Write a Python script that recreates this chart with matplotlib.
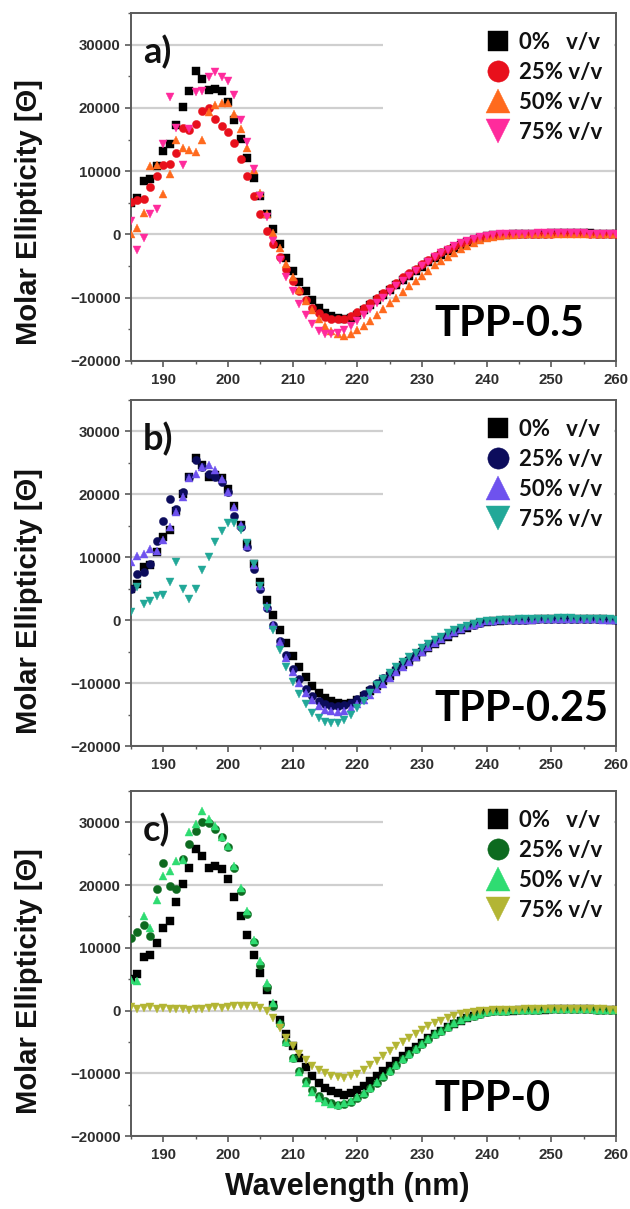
import matplotlib
matplotlib.use("Agg")
import matplotlib.pyplot as plt
from matplotlib.patches import Rectangle
from matplotlib.ticker import MultipleLocator
import numpy as np

# ---------------- data (molar ellipticity, in thousands) ----------------
wavelength = list(range(185, 261))  # nm, 1 nm grid

pct0 = [5.0, 5.8, 8.5, 8.8, 10.8,
        13.2, 14.3, 17.3, 20.1, 22.7, 25.8, 24.6, 22.8, 23.0, 22.6,
        20.9, 18.1, 15.1, 12.1, 8.9, 6.0, 3.2, 0.9, -1.5, -3.7,
        -5.7, -7.5, -9.0, -10.4, -11.6, -12.4, -12.9, -13.2, -13.4, -13.2,
        -12.7, -12.0, -11.2, -10.4, -9.6, -8.8, -8.0, -7.2, -6.5, -5.8,
        -5.1, -4.4, -3.8, -3.2, -2.6, -2.1, -1.6, -1.2, -0.8, -0.5,
        -0.3, -0.15, -0.08, -0.03, 0.0, 0.05, 0.08, 0.1, 0.12, 0.15,
        0.17, 0.2, 0.22, 0.25, 0.22, 0.2, 0.18, 0.15, 0.12, 0.1,
        0.08]

a_25 = [5.2, 5.5, 5.6, 7.5, 9.2,
        11.0, 11.2, 12.8, 16.8, 16.5, 17.5, 19.5, 20.0, 18.3, 17.2,
        16.2, 14.5, 12.0, 9.2, 6.0, 3.2, 0.6, -1.5, -3.5, -5.5,
        -7.3, -9.0, -10.4, -11.6, -12.4, -13.0, -13.3, -13.4, -13.3, -12.9,
        -12.3, -11.6, -10.8, -10.0, -9.2, -8.4, -7.6, -6.8, -6.1, -5.4,
        -4.7, -4.0, -3.4, -2.8, -2.3, -1.8, -1.4, -1.0, -0.7, -0.4,
        -0.2, -0.1, -0.05, 0.0, 0.03, 0.05, 0.08, 0.1, 0.12, 0.14,
        0.15, 0.17, 0.18, 0.2, 0.18, 0.16, 0.14, 0.12, 0.1, 0.08,
        0.06]

a_50 = [0.0, 1.0, 3.4, 10.8, 11.0,
        6.4, 9.5, 14.9, 13.6, 13.3, 13.0, 15.0, 19.3, 20.4, 20.7,
        20.8, 19.0, 16.7, 13.6, 10.2, 6.5, 3.2, 0.3, -2.2, -4.6,
        -6.8, -8.8, -10.5, -12.0, -13.3, -14.4, -15.2, -15.7, -16.0, -15.7,
        -15.1, -14.4, -13.6, -12.7, -11.8, -10.9, -10.0, -9.1, -8.2, -7.3,
        -6.5, -5.7, -4.9, -4.2, -3.5, -2.9, -2.3, -1.8, -1.3, -0.9,
        -0.6, -0.35, -0.2, -0.1, -0.05, 0.0, 0.03, 0.05, 0.08, 0.1,
        0.12, 0.14, 0.15, 0.15, 0.14, 0.12, 0.1, 0.08, 0.06, 0.05,
        0.04]

a_75 = [2.2, -2.4, -0.5, 3.3, 4.0,
        14.3, 21.7, 16.9, 10.9, 16.7, 22.5, 22.6, 24.9, 25.7, 24.9,
        24.2, 22.0, 18.1, 14.6, 10.4, 6.0, 2.7, -1.0, -4.0, -6.7,
        -9.0, -11.0, -12.8, -14.2, -15.2, -15.7, -15.8, -15.6, -15.1, -14.4,
        -13.6, -12.7, -11.8, -10.9, -10.0, -9.1, -8.2, -7.4, -6.6, -5.8,
        -5.0, -4.3, -3.6, -3.0, -2.4, -1.9, -1.4, -1.0, -0.7, -0.4,
        -0.2, -0.1, 0.0, 0.05, 0.08, 0.1, 0.12, 0.15, 0.17, 0.2,
        0.22, 0.25, 0.25, 0.23, 0.2, 0.18, 0.15, 0.12, 0.1, 0.08,
        0.06]

b_25 = [4.9, 7.3, 7.6, 8.9, 12.6,
        15.8, 19.2, 17.7, 20.3, 22.7, 25.4, 24.3, 23.3, 22.7, 21.9,
        20.3, 16.6, 14.8, 11.6, 8.1, 5.0, 2.0, -0.8, -3.3, -5.6,
        -7.7, -9.4, -10.9, -12.0, -12.8, -13.3, -13.6, -13.7, -13.5, -13.1,
        -12.5, -11.7, -10.9, -10.0, -9.2, -8.4, -7.6, -6.8, -6.1, -5.4,
        -4.7, -4.0, -3.4, -2.8, -2.3, -1.8, -1.4, -1.0, -0.7, -0.4,
        -0.2, -0.1, -0.05, 0.0, 0.05, 0.08, 0.1, 0.12, 0.15, 0.17,
        0.2, 0.22, 0.24, 0.25, 0.24, 0.22, 0.2, 0.18, 0.15, 0.12,
        0.1]

b_50 = [9.3, 10.2, 10.5, 11.3, 11.0,
        12.8, 14.8, 17.2, 19.6, 22.6, 23.3, 24.4, 24.6, 23.8, 22.4,
        20.3, 18.0, 15.2, 11.8, 8.7, 5.4, 2.2, -0.8, -3.5, -6.0,
        -8.2, -10.0, -11.5, -12.7, -13.6, -14.2, -14.5, -14.6, -14.4, -14.0,
        -13.4, -12.7, -11.9, -11.0, -10.1, -9.2, -8.3, -7.4, -6.6, -5.8,
        -5.0, -4.3, -3.6, -3.0, -2.4, -1.9, -1.4, -1.0, -0.7, -0.4,
        -0.2, -0.1, -0.05, 0.0, 0.03, 0.06, 0.08, 0.1, 0.12, 0.14,
        0.16, 0.18, 0.2, 0.2, 0.18, 0.16, 0.14, 0.12, 0.1, 0.08,
        0.06]

b_75 = [1.3, 5.2, 2.6, 3.0, 3.8,
        4.0, 6.0, 9.3, 5.0, 3.4, 5.0, 8.0, 10.1, 12.4, 14.2,
        15.5, 15.4, 14.3, 12.3, 9.0, 5.5, 2.0, -1.5, -4.7, -7.4,
        -9.8, -11.8, -13.4, -14.7, -15.6, -16.2, -16.4, -16.3, -15.9, -15.0,
        -14.0, -12.8, -11.5, -10.3, -9.3, -8.4, -7.5, -6.7, -5.9, -5.2,
        -4.5, -3.8, -3.2, -2.6, -2.1, -1.6, -1.2, -0.9, -0.6, -0.35,
        -0.2, -0.1, 0.0, 0.05, 0.1, 0.12, 0.15, 0.18, 0.2, 0.22,
        0.25, 0.27, 0.28, 0.28, 0.26, 0.24, 0.2, 0.18, 0.15, 0.12,
        0.1]

c_25 = [11.6, 12.5, 13.7, 11.9, 19.3,
        23.6, 19.8, 19.3, 24.1, 26.5, 28.7, 30.0, 29.9, 28.9, 27.6,
        26.0, 22.7, 19.0, 15.4, 11.0, 7.3, 3.8, 0.8, -2.2, -5.0,
        -7.5, -9.6, -11.3, -12.7, -13.7, -14.4, -14.8, -15.0, -14.9, -14.6,
        -14.0, -13.3, -12.4, -11.5, -10.6, -9.6, -8.7, -7.8, -6.9, -6.1,
        -5.3, -4.5, -3.8, -3.2, -2.6, -2.0, -1.5, -1.1, -0.8, -0.5,
        -0.3, -0.15, -0.05, 0.0, 0.05, 0.08, 0.1, 0.12, 0.15, 0.18,
        0.2, 0.22, 0.25, 0.25, 0.22, 0.2, 0.18, 0.15, 0.12, 0.1,
        0.08]

c_50 = [4.8, 4.7, 15.0, 13.2, 17.7,
        21.5, 22.2, 23.8, 24.0, 28.4, 29.7, 31.8, 30.5, 29.4, 27.6,
        26.2, 23.0, 19.6, 15.9, 11.3, 7.9, 4.4, 1.2, -2.0, -5.0,
        -7.6, -9.8, -11.6, -13.0, -14.0, -14.6, -14.9, -15.0, -14.8, -14.4,
        -13.8, -13.1, -12.3, -11.4, -10.5, -9.6, -8.7, -7.8, -6.9, -6.1,
        -5.3, -4.5, -3.8, -3.2, -2.6, -2.0, -1.5, -1.1, -0.8, -0.5,
        -0.3, -0.15, -0.05, 0.0, 0.05, 0.08, 0.1, 0.12, 0.15, 0.18,
        0.2, 0.22, 0.24, 0.24, 0.22, 0.2, 0.17, 0.14, 0.12, 0.1,
        0.08]

c_75 = [0.5, 0.3, 0.4, 0.5, 0.2,
        0.4, 0.3, 0.2, 0.3, 0.1, 0.3, 0.2, 0.4, 0.5, 0.4,
        0.6, 0.7, 0.8, 0.8, 0.7, 0.4, 0.0, -1.2, -2.8, -4.3,
        -5.7, -6.9, -7.9, -8.8, -9.5, -10.0, -10.4, -10.6, -10.7, -10.5,
        -10.1, -9.4, -8.7, -8.0, -7.2, -6.4, -5.7, -5.0, -4.3, -3.7,
        -3.1, -2.5, -2.0, -1.6, -1.2, -0.9, -0.6, -0.4, -0.2, -0.1,
        0.0, 0.05, 0.08, 0.1, 0.12, 0.15, 0.18, 0.2, 0.22, 0.25,
        0.28, 0.3, 0.32, 0.3, 0.28, 0.25, 0.22, 0.2, 0.18, 0.15,
        0.12]

labels = ["0%   v/v", "25% v/v", "50% v/v", "75% v/v"]
panel_letters = ["a)", "b)", "c)"]
panel_names = ["TPP-0.5", "TPP-0.25", "TPP-0"]
panel_series = [[pct0, a_25, a_50, a_75],
                [pct0, b_25, b_50, b_75],
                [pct0, c_25, c_50, c_75]]
panel_colors = [["#000000", "#e8101c", "#ff6a1e", "#ff2b9c"],
                ["#000000", "#0c0c5c", "#6e52ee", "#22a898"],
                ["#000000", "#0d6a1f", "#2fdc72", "#b3b534"]]
markers = ["s", "o", "^", "v"]
msizes = [5.5, 5.9, 6.4, 6.4]

xticks = [190, 200, 210, 220, 230, 240, 250, 260]
yticks = [-20000, -10000, 0, 10000, 20000, 30000]

# ---------------- figure ----------------
W, H = 630, 1209
fig = plt.figure(figsize=(W / 100, H / 100), dpi=100)

# axes boxes in pixels: (top, bottom)
boxes = [(13, 361), (400, 746), (791, 1136)]
left_px, right_px = 131, 616

for i, (top, bot) in enumerate(boxes):
    ax = fig.add_axes([left_px / W, 1 - bot / H, (right_px - left_px) / W, (bot - top) / H])
    wl = np.array(wavelength)
    for s, col, mk, ms, lab in zip(panel_series[i], panel_colors[i], markers, msizes, labels):
        ax.plot(wl, np.array(s) * 1000, linestyle="none", marker=mk, ms=ms,
                color=col, mec=col, mew=0.3, label=lab, zorder=3)

    ax.set_xlim(185, 260)
    ax.set_ylim(-20000, 35000)
    ax.set_xticks(xticks)
    ax.set_yticks(yticks)
    ax.xaxis.set_minor_locator(MultipleLocator(5))
    ax.yaxis.set_minor_locator(MultipleLocator(5000))
    ax.set_axisbelow(True)
    ax.yaxis.grid(True, color="#cfcfcf", linewidth=1.6, zorder=0)

    for sp in ax.spines.values():
        sp.set_color("#5a5a5a")
        sp.set_linewidth(1.4)
    ax.tick_params(axis="both", which="major", direction="out", length=4.5,
                   width=1.2, color="#5a5a5a", pad=3)
    ax.tick_params(axis="both", which="minor", direction="out", length=2.5,
                   width=1.0, color="#5a5a5a")
    ax.tick_params(axis="x", which="major", pad=4)
    for t in ax.get_xticklabels() + ax.get_yticklabels():
        t.set_fontfamily("Liberation Sans")
        t.set_fontweight("bold")
        t.set_fontsize(10.8)
        t.set_color("#2e2e2e")

    # white legend area hiding grid lines
    ax.add_patch(Rectangle((0.52, 0.6), 0.475, 0.398, transform=ax.transAxes,
                           facecolor="white", edgecolor="none", zorder=1))

    leg = ax.legend(loc="upper left", bbox_to_anchor=(0.734, 0.945), frameon=False,
                    markerscale=2.6, handlelength=1.0, handletextpad=0.45,
                    labelspacing=0.4, borderpad=0, borderaxespad=0,
                    prop=dict(family="Lato", weight="bold", size=16))
    for t in leg.get_texts():
        t.set_color("#111111")

    ax.text(0.025, 0.888, panel_letters[i], transform=ax.transAxes, ha="left",
            va="center", fontsize=26, fontfamily="Lato", fontweight="bold",
            color="#111111", zorder=4)
    ax.text(0.625, 0.107, panel_names[i], transform=ax.transAxes, ha="left",
            va="center", fontsize=30, fontfamily="Lato", fontweight="bold",
            color="#000000", zorder=4)

    ax.set_ylabel("Molar Ellipticity [Θ]", fontfamily="Liberation Sans",
                  fontweight="bold", fontsize=21, color="#111111", va="center")
    ax.yaxis.set_label_coords(-0.21, [0.428, 0.419, 0.45][i])

    if i == 2:
        ax.set_xlabel("Wavelength (nm)", fontfamily="Liberation Sans",
                      fontweight="bold", fontsize=22, color="#111111", va="center")
        ax.xaxis.set_label_coords(0.446, -0.148)

fig.savefig("out.png", dpi=100, facecolor="white")
